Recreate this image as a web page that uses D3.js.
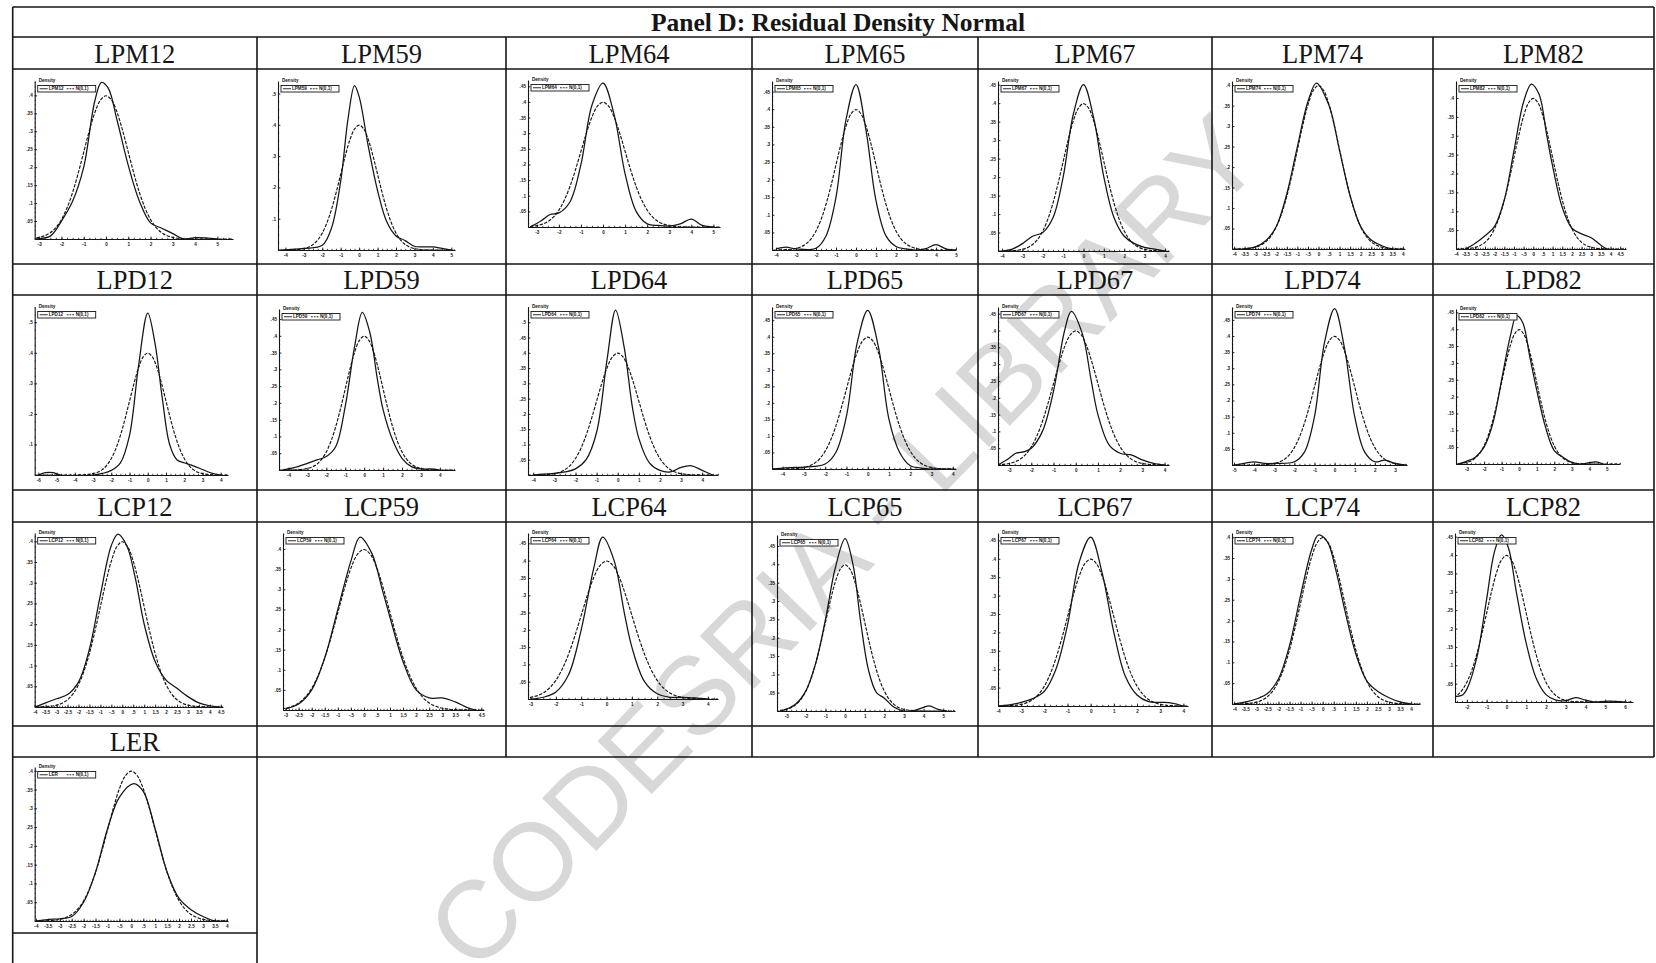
<!DOCTYPE html>
<html>
<head>
<meta charset="utf-8">
<script src="https://cdn.jsdelivr.net/npm/d3@7"></script>
<style>
  html, body { margin: 0; padding: 0; background: #fff; }
  svg { display: block; }
</style>
</head>
<body>
<svg id="chart" width="1656" height="963"></svg>
<script>
// ---------------- data ----------------
const panelTitle = "Panel D: Residual Density Normal";
const panelNames = [
  "LPM12", "LPM59", "LPM64", "LPM65", "LPM67", "LPM74", "LPM82",
  "LPD12", "LPD59", "LPD64", "LPD65", "LPD67", "LPD74", "LPD82",
  "LCP12", "LCP59", "LCP64", "LCP65", "LCP67", "LCP74", "LCP82",
  "LER"
];
const normalLabel = "N(0,1)";
const densityLabel = "Density";
const watermarkText = "CODESRIA - LIBRARY";

// standard normal reference density N(0,1)
const normalCurve = [
  [-7, 0], [-4.5, 0], [-4, 0.0001], [-3.5, 0.0009], [-3.25, 0.002], [-3, 0.0044],
  [-2.75, 0.0091], [-2.5, 0.0175], [-2.25, 0.0317], [-2, 0.054], [-1.75, 0.0863],
  [-1.5, 0.1295], [-1.25, 0.1826], [-1, 0.242], [-0.75, 0.3011], [-0.5, 0.3521],
  [-0.25, 0.3867], [0, 0.3989], [0.25, 0.3867], [0.5, 0.3521], [0.75, 0.3011],
  [1, 0.242], [1.25, 0.1826], [1.5, 0.1295], [1.75, 0.0863], [2, 0.054],
  [2.25, 0.0317], [2.5, 0.0175], [2.75, 0.0091], [3, 0.0044], [3.25, 0.002],
  [3.5, 0.0009], [4, 0.0001], [4.5, 0], [7, 0]
];

// kernel density estimates of the residuals
const kdeLPM12 = [[-3.2,0],[-3,0.001],[-2.5,0.008],[-2,0.05],[-1.5,0.105],[-1,0.2],[-0.5,0.385],[-0.2,0.436],[0.1,0.42],[0.5,0.33],[1,0.205],[1.5,0.105],[2,0.045],[2.5,0.03],[3,0.015],[3.5,0],[4,0.004],[4.5,0.003],[5,0]];
const kdeLPM59 = [[-4.2,0],[-3,0.005],[-2,0.015],[-1.5,0.07],[-1,0.22],[-0.6,0.42],[-0.25,0.525],[0,0.49],[0.5,0.33],[1,0.19],[1.5,0.09],[2,0.045],[2.5,0.03],[3,0.012],[3.5,0.01],[4,0.01],[4.5,0.005],[5,0]];
const kdeLPM64 = [[-3.3,0],[-2.8,0.02],[-2.4,0.04],[-2,0.045],[-1.5,0.08],[-1,0.2],[-0.5,0.39],[0,0.46],[0.5,0.36],[1,0.17],[1.5,0.05],[2,0.01],[2.5,0.005],[3,0.003],[3.5,0.01],[4,0.025],[4.5,0.005],[5,0]];
const kdeLPM65 = [[-4,0.003],[-3.5,0.008],[-3,0.003],[-2,0.005],[-1.5,0.04],[-1,0.15],[-0.5,0.37],[0,0.47],[0.5,0.34],[1,0.14],[1.5,0.04],[2,0.01],[2.5,0.003],[3,0],[3.5,0.004],[4,0.015],[4.5,0.003],[5,0]];
const kdeLPM67 = [[-4,0],[-3.5,0.005],[-3,0.02],[-2.5,0.04],[-2,0.05],[-1.5,0.09],[-1,0.2],[-0.5,0.37],[0,0.45],[0.5,0.36],[1,0.2],[1.5,0.09],[2,0.04],[2.5,0.02],[3,0.01],[3.5,0.005],[4,0]];
const kdeLPM74 = [[-3.5,0],[-3,0.005],[-2.5,0.02],[-2,0.055],[-1.5,0.135],[-1,0.25],[-0.5,0.36],[-0.1,0.405],[0.5,0.35],[1,0.24],[1.5,0.13],[2,0.055],[2.5,0.022],[3,0.008],[3.5,0],[4,0]];
const kdeLPM82 = [[-3.5,0],[-3,0.015],[-2.5,0.035],[-2,0.06],[-1.5,0.13],[-1,0.26],[-0.5,0.39],[-0.1,0.437],[0.3,0.41],[0.7,0.3],[1,0.22],[1.5,0.11],[2,0.055],[2.5,0.04],[3,0.03],[3.5,0.01],[3.8,0]];
const kdeLPD12 = [[-6,0],[-5.6,0.008],[-5.2,0.008],[-4.8,0],[-3,0],[-2.5,0.005],[-2,0.015],[-1.5,0.04],[-1,0.13],[-0.5,0.36],[0,0.53],[0.4,0.43],[0.8,0.25],[1.2,0.1],[1.6,0.05],[2,0.04],[2.5,0.03],[3,0.018],[3.5,0.006],[4,0]];
const kdeLPD59 = [[-4.3,0],[-3.5,0.01],[-3,0.02],[-2.5,0.03],[-2,0.04],[-1.5,0.07],[-1,0.19],[-0.5,0.37],[-0.1,0.47],[0.3,0.41],[0.7,0.27],[1,0.18],[1.5,0.09],[2,0.035],[2.5,0.01],[3,0.003],[3.5,0.003],[4,0]];
const kdeLPD64 = [[-4,0],[-3.5,0.003],[-3,0.005],[-2.5,0.01],[-2,0.02],[-1.5,0.05],[-1,0.14],[-0.5,0.38],[-0.1,0.54],[0.3,0.42],[0.7,0.22],[1,0.12],[1.5,0.04],[2,0.015],[2.5,0.01],[3,0.025],[3.5,0.03],[4,0.015],[4.5,0]];
const kdeLPD65 = [[-4.5,0],[-4,0.003],[-3,0.006],[-2.5,0.008],[-2,0.015],[-1.5,0.05],[-1,0.16],[-0.5,0.38],[0,0.48],[0.5,0.37],[1,0.15],[1.5,0.05],[2,0.01],[2.5,0.003],[3,0],[4,0]];
const kdeLPD67 = [[-3.5,0],[-3,0.02],[-2.7,0.035],[-2.3,0.04],[-2,0.05],[-1.5,0.1],[-1,0.22],[-0.5,0.4],[-0.2,0.457],[0.3,0.39],[0.7,0.25],[1,0.15],[1.5,0.06],[2,0.035],[2.5,0.03],[3,0.015],[3.5,0.005],[4,0]];
const kdeLPD74 = [[-5,0],[-4.5,0.005],[-4,0.01],[-3.5,0.005],[-3,0.005],[-2,0.01],[-1.5,0.04],[-1,0.15],[-0.5,0.38],[0,0.485],[0.5,0.36],[1,0.15],[1.5,0.04],[2,0.01],[2.5,0.015],[3,0.005],[3.5,0]];
const kdeLPD82 = [[-3.5,0],[-3,0.008],[-2.5,0.02],[-2,0.05],[-1.5,0.12],[-1,0.25],[-0.5,0.38],[-0.15,0.44],[0.2,0.42],[0.6,0.32],[1,0.22],[1.5,0.11],[2,0.04],[2.5,0.02],[3,0.005],[3.5,0],[4,0.004],[4.4,0.006],[4.8,0]];
const kdeLCP12 = [[-4,0],[-3.5,0.01],[-3,0.02],[-2.5,0.03],[-2,0.06],[-1.5,0.14],[-1,0.27],[-0.5,0.39],[-0.2,0.417],[0.2,0.39],[0.6,0.31],[1,0.2],[1.5,0.11],[2,0.065],[2.5,0.045],[3,0.025],[3.5,0.01],[4,0.003],[4.5,0]];
const kdeLCP59 = [[-3,0.003],[-2.5,0.015],[-2,0.05],[-1.5,0.13],[-1,0.25],[-0.5,0.37],[-0.15,0.43],[0.3,0.39],[0.7,0.3],[1,0.23],[1.5,0.12],[2,0.05],[2.5,0.03],[3,0.03],[3.5,0.02],[4,0.005],[4.3,0]];
const kdeLCP64 = [[-3,0],[-2.5,0.005],[-2,0.02],[-1.5,0.07],[-1,0.2],[-0.5,0.38],[-0.15,0.468],[0.3,0.4],[0.7,0.25],[1,0.15],[1.5,0.05],[2,0.015],[2.5,0.005],[3,0.005],[3.5,0.003],[4,0]];
const kdeLCP65 = [[-3.3,0],[-3,0.005],[-2.5,0.02],[-2,0.055],[-1.5,0.13],[-1,0.25],[-0.5,0.39],[0,0.47],[0.4,0.4],[0.8,0.24],[1.2,0.11],[1.6,0.05],[2,0.035],[2.5,0.01],[3,0],[3.5,0.001],[4,0.01],[4.3,0.014],[4.7,0.005],[5.2,0]];
const kdeLCP67 = [[-4,0],[-3.5,0.003],[-3,0.01],[-2.5,0.02],[-2,0.04],[-1.5,0.1],[-1,0.22],[-0.5,0.39],[0,0.459],[0.5,0.36],[1,0.2],[1.5,0.08],[2,0.03],[2.5,0.012],[3,0.01],[3.5,0.008],[4,0]];
const kdeLCP74 = [[-4,0],[-3.5,0.005],[-3,0.012],[-2.5,0.025],[-2,0.06],[-1.5,0.14],[-1,0.26],[-0.5,0.37],[-0.2,0.405],[0.2,0.39],[0.6,0.32],[1,0.225],[1.5,0.12],[2,0.055],[2.5,0.03],[3,0.015],[3.5,0.005],[4,0]];
const kdeLCP82 = [[-2.6,0.015],[-2.2,0.02],[-2,0.035],[-1.5,0.12],[-1,0.28],[-0.6,0.41],[-0.25,0.455],[0.1,0.42],[0.5,0.3],[1,0.16],[1.5,0.065],[2,0.02],[2.5,0.005],[3,0.004],[3.5,0.012],[4,0.005],[4.5,0],[5,0.002],[5.5,0.002],[6,0]];
const kdeLER   = [[-4,0],[-3.5,0.004],[-3,0.006],[-2.5,0.012],[-2,0.05],[-1.5,0.13],[-1,0.245],[-0.5,0.33],[0.1,0.366],[0.5,0.345],[1,0.245],[1.5,0.13],[2,0.06],[2.5,0.03],[3,0.012],[3.5,0],[4,0]];

// tick label sets
const xtM3to5   = [-3, -2, -1, 0, 1, 2, 3, 4, 5];
const xtM4to5   = [-4, -3, -2, -1, 0, 1, 2, 3, 4, 5];
const xtM4to4   = [-4, -3, -2, -1, 0, 1, 2, 3, 4];
const xtM3to4   = [-3, -2, -1, 0, 1, 2, 3, 4];
const xtM6to4   = [-6, -5, -4, -3, -2, -1, 0, 1, 2, 3, 4];
const xtM5to3   = [-5, -4, -3, -2, -1, 0, 1, 2, 3];
const xtM2to6   = [-2, -1, 0, 1, 2, 3, 4, 5, 6];
const xtHalfM4to4  = [-4, -3.5, -3, -2.5, -2, -1.5, -1, -0.5, 0, 0.5, 1, 1.5, 2, 2.5, 3, 3.5, 4];
const xtHalfM4to45 = [-4, -3.5, -3, -2.5, -2, -1.5, -1, -0.5, 0, 0.5, 1, 1.5, 2, 2.5, 3, 3.5, 4, 4.5];
const xtHalfM3to45 = [-3, -2.5, -2, -1.5, -1, -0.5, 0, 0.5, 1, 1.5, 2, 2.5, 3, 3.5, 4, 4.5];
const ytTo40 = [0.05, 0.1, 0.15, 0.2, 0.25, 0.3, 0.35, 0.4];
const ytTo45 = [0.05, 0.1, 0.15, 0.2, 0.25, 0.3, 0.35, 0.4, 0.45];
const ytTo50 = [0.05, 0.1, 0.15, 0.2, 0.25, 0.3, 0.35, 0.4, 0.45, 0.5];
const ytTenths = [0.1, 0.2, 0.3, 0.4, 0.5];

// per panel (in panelNames order): x range, x ticks, y top, y ticks
const xDomains = [
  [-3.2, 5.7], [-4.4, 5.2], [-3.4, 5.3], [-4.2, 5], [-4.2, 4.2], [-4.1, 4.1], [-4, 4.8],
  [-6.2, 4.4], [-4.5, 4.8], [-4.25, 4.75], [-4.5, 4.15], [-3.5, 4.2], [-5.1, 3.6], [-3.6, 5.75],
  [-4, 4.6], [-3.1, 4.6], [-3.1, 4.4], [-3.47, 5.6], [-4, 4.2], [-4.1, 4.4], [-2.6, 6.4],
  [-4.05, 4.05]
];
const xTickSets = [
  xtM3to5, xtM4to5, xtM3to5, xtM4to5, xtM4to4, xtHalfM4to4, xtHalfM4to45,
  xtM6to4, xtM4to4, xtM4to4, xtM4to4, xtM3to4, xtM5to3, xtM3to5,
  xtHalfM4to45, xtHalfM3to45, xtM3to4, xtM3to5, xtM4to4, xtHalfM4to4, xtM2to6,
  xtHalfM4to4
];
const yTops = [
  0.44, 0.54, 0.47, 0.48, 0.46, 0.41, 0.445,
  0.55, 0.48, 0.55, 0.49, 0.47, 0.49, 0.46,
  0.42, 0.44, 0.48, 0.48, 0.47, 0.41, 0.46,
  0.41
];
const yTickSets = [
  ytTo40, ytTenths, ytTo45, ytTo45, ytTo45, ytTo40, ytTo40,
  ytTenths, ytTo45, ytTo50, ytTo45, ytTo45, ytTo45, ytTo45,
  ytTo40, ytTo40, ytTo45, ytTo45, ytTo45, ytTo40, ytTo45,
  ytTo40
];
const densitySeries = [
  kdeLPM12, kdeLPM59, kdeLPM64, kdeLPM65, kdeLPM67, kdeLPM74, kdeLPM82,
  kdeLPD12, kdeLPD59, kdeLPD64, kdeLPD65, kdeLPD67, kdeLPD74, kdeLPD82,
  kdeLCP12, kdeLCP59, kdeLCP64, kdeLCP65, kdeLCP67, kdeLCP74, kdeLCP82,
  kdeLER
];

// ---------------- layout ----------------
const W = 1656, H = 963;
const colEdges = [12.7, 257, 506, 752, 978, 1212, 1433, 1654];
const titleRow = [7, 37];
const headerRows = [[37, 69], [264, 295], [490, 522], [726, 757]];
const plotRows = [[69, 264], [295, 490], [522, 726], [757, 933]];
const tableBottom = 963;
// plot frame insets inside each cell: left, right, top, bottom
const frameInsets = [
  [22, 24, 12, 25], [21, 51, 12, 14], [22, 32, 11, 37], [20, 22, 12, 14], [20, 43, 12, 13], [20, 28, 12, 15], [23, 28, 12, 15],
  [22, 29, 12, 15], [22, 51, 14, 20], [22, 34, 12, 15], [20, 22, 12, 21], [20, 43, 12, 25], [20, 26, 12, 25], [23, 34, 14, 26],
  [22, 34, 11, 19], [26, 22, 11, 16], [22, 34, 11, 27], [25, 23, 13, 15], [20, 24, 11, 20], [20, 13, 11, 22], [22, 21, 11, 24],
  [22, 29, 10, 12]
];

const ink = "#151515";
const tiny = 4.6;
const fmtTick = v => {
  const s = String(+v.toFixed(3));
  return s.replace(/^(-?)0\./, "$1.");
};

const svg = d3.select("#chart");
svg.append("rect").attr("width", W).attr("height", H).attr("fill", "#fff");

// watermark, kept behind everything else
svg.append("text")
  .attr("transform", "translate(843,542) rotate(-45.8)")
  .attr("text-anchor", "middle")
  .attr("dominant-baseline", "central")
  .attr("font-family", "Liberation Sans, Arial, sans-serif")
  .attr("font-size", 110)
  .attr("fill", "#d8d8d8")
  .text(watermarkText);

// ---------------- table grid ----------------
const grid = svg.append("g").attr("stroke", ink).attr("stroke-width", 1.6).attr("fill", "none");
const hLines = [titleRow[0], titleRow[1], ...headerRows.map(r => r[1]), ...plotRows.slice(0, 3).map(r => r[1])];
hLines.forEach(yv => grid.append("line").attr("x1", colEdges[0]).attr("x2", colEdges[7]).attr("y1", yv).attr("y2", yv));
grid.append("line").attr("x1", colEdges[0]).attr("x2", colEdges[1]).attr("y1", plotRows[3][1]).attr("y2", plotRows[3][1]);
grid.append("line").attr("x1", colEdges[0]).attr("x2", colEdges[0]).attr("y1", titleRow[0]).attr("y2", tableBottom);
grid.append("line").attr("x1", colEdges[7]).attr("x2", colEdges[7]).attr("y1", titleRow[0]).attr("y2", plotRows[3][0]);
colEdges.slice(1, 7).forEach((xv, k) => {
  grid.append("line").attr("x1", xv).attr("x2", xv)
    .attr("y1", titleRow[1]).attr("y2", k === 0 ? tableBottom : plotRows[3][0]);
});

// title
svg.append("text")
  .attr("x", 838).attr("y", 31)
  .attr("text-anchor", "middle")
  .attr("font-family", "Liberation Serif, Times New Roman, serif")
  .attr("font-weight", "bold")
  .attr("font-size", 25.5)
  .attr("fill", ink)
  .text(panelTitle);

// ---------------- panels ----------------
const defs = svg.append("defs");

panelNames.forEach((name, i) => {
  const r = Math.floor(i / 7), c = i % 7;
  const cx0 = colEdges[c], cx1 = colEdges[c + 1];
  const [hy0, hy1] = headerRows[r];
  const [py0, py1] = plotRows[r];

  // cell header
  svg.append("text")
    .attr("x", (cx0 + cx1) / 2).attr("y", hy1 - 6.5)
    .attr("text-anchor", "middle")
    .attr("font-family", "Liberation Serif, Times New Roman, serif")
    .attr("font-size", 26.5)
    .attr("fill", ink)
    .text(name);

  const [iL, iR, iT, iB] = frameInsets[i];
  const left = cx0 + iL, right = cx1 - iR, top = py0 + iT, bottom = py1 - iB;

  const x = d3.scaleLinear().domain(xDomains[i]).range([left, right]);
  const y = d3.scaleLinear().domain([0, yTops[i]]).range([bottom, top]);

  const g = svg.append("g");

  // x axis with minor ticks
  const xt = xTickSets[i];
  const xStep = xt[1] - xt[0];
  const xMinor = d3.range(xDomains[i][0], xDomains[i][1] + 1e-9, xStep / 4)
    .map(v => Math.round((v - xt[0]) / (xStep / 4)) * (xStep / 4) + xt[0])
    .filter(v => v >= xDomains[i][0] && v <= xDomains[i][1]);
  g.append("g")
    .attr("transform", `translate(0,${bottom})`)
    .call(d3.axisBottom(x).tickValues(xMinor).tickSize(-1.2).tickSizeOuter(0).tickFormat(""))
    .call(a => a.select(".domain").remove())
    .call(a => a.selectAll("line").attr("stroke", ink).attr("stroke-width", 0.8));
  g.append("g")
    .attr("transform", `translate(0,${bottom})`)
    .call(d3.axisBottom(x).tickValues(xt).tickSize(-2.4).tickSizeOuter(0).tickPadding(3.5).tickFormat(fmtTick))
    .call(a => a.select(".domain").attr("stroke", ink).attr("stroke-width", 1.1))
    .call(a => a.selectAll("line").attr("stroke", ink).attr("stroke-width", 0.9))
    .call(a => a.selectAll("text")
      .attr("font-family", "Liberation Sans, Arial, sans-serif")
      .attr("font-weight", "bold")
      .attr("font-size", tiny).attr("fill", ink));

  // y axis with minor ticks
  const yt = yTickSets[i];
  const yStep = yt[1] - yt[0];
  const yMinor = d3.range(0, yTops[i] + 1e-9, yStep / 4);
  g.append("g")
    .attr("transform", `translate(${left},0)`)
    .call(d3.axisLeft(y).tickValues(yMinor).tickSize(-1.2).tickSizeOuter(0).tickFormat(""))
    .call(a => a.select(".domain").remove())
    .call(a => a.selectAll("line").attr("stroke", ink).attr("stroke-width", 0.8));
  g.append("g")
    .attr("transform", `translate(${left},0)`)
    .call(d3.axisLeft(y).tickValues(yt).tickSize(-2.4).tickSizeOuter(0).tickPadding(2).tickFormat(fmtTick))
    .call(a => a.select(".domain").attr("stroke", ink).attr("stroke-width", 1.1))
    .call(a => a.selectAll("line").attr("stroke", ink).attr("stroke-width", 0.9))
    .call(a => a.selectAll("text")
      .attr("font-family", "Liberation Sans, Arial, sans-serif")
      .attr("font-weight", "bold")
      .attr("font-size", tiny).attr("fill", ink));

  // "Density" label above the y axis
  g.append("text")
    .attr("x", left + 4).attr("y", top + 0.5)
    .attr("font-family", "Liberation Sans, Arial, sans-serif")
    .attr("font-weight", "bold")
    .attr("font-size", tiny)
    .attr("fill", ink)
    .text(densityLabel);

  // curves, clipped to the plotting area
  const clipId = "clip" + i;
  defs.append("clipPath").attr("id", clipId)
    .append("rect").attr("x", left).attr("y", top - 6).attr("width", right - left).attr("height", bottom - top + 6);
  const line = d3.line()
    .x(d => x(d[0])).y(d => y(d[1]))
    .curve(d3.curveCatmullRom.alpha(0.5));
  const curves = g.append("g").attr("clip-path", `url(#${clipId})`);
  curves.append("path")
    .datum(normalCurve)
    .attr("d", line)
    .attr("fill", "none").attr("stroke", ink).attr("stroke-width", 1.15)
    .attr("stroke-dasharray", "3.4,1.4");
  curves.append("path")
    .datum(densitySeries[i])
    .attr("d", line)
    .attr("fill", "none").attr("stroke", ink).attr("stroke-width", 1.25);

  // legend box
  const lx = left + 3, ly = top + 4.5, lw = 58, lh = 6.5;
  const lg = g.append("g");
  lg.append("rect").attr("x", lx).attr("y", ly).attr("width", lw).attr("height", lh)
    .attr("fill", "#fff").attr("stroke", ink).attr("stroke-width", 0.9);
  lg.append("line").attr("x1", lx + 2).attr("x2", lx + 10).attr("y1", ly + lh / 2).attr("y2", ly + lh / 2)
    .attr("stroke", ink).attr("stroke-width", 0.9);
  lg.append("text").attr("x", lx + 11).attr("y", ly + lh / 2 + 1.6)
    .attr("font-family", "Liberation Sans, Arial, sans-serif").attr("font-weight", "bold")
    .attr("font-size", tiny).attr("fill", ink).text(name);
  lg.append("line").attr("x1", lx + 29).attr("x2", lx + 37).attr("y1", ly + lh / 2).attr("y2", ly + lh / 2)
    .attr("stroke", ink).attr("stroke-width", 0.9).attr("stroke-dasharray", "1.8,1");
  lg.append("text").attr("x", lx + 38).attr("y", ly + lh / 2 + 1.6)
    .attr("font-family", "Liberation Sans, Arial, sans-serif").attr("font-weight", "bold")
    .attr("font-size", tiny).attr("fill", ink).text(normalLabel);
});
</script>
</body>
</html>
